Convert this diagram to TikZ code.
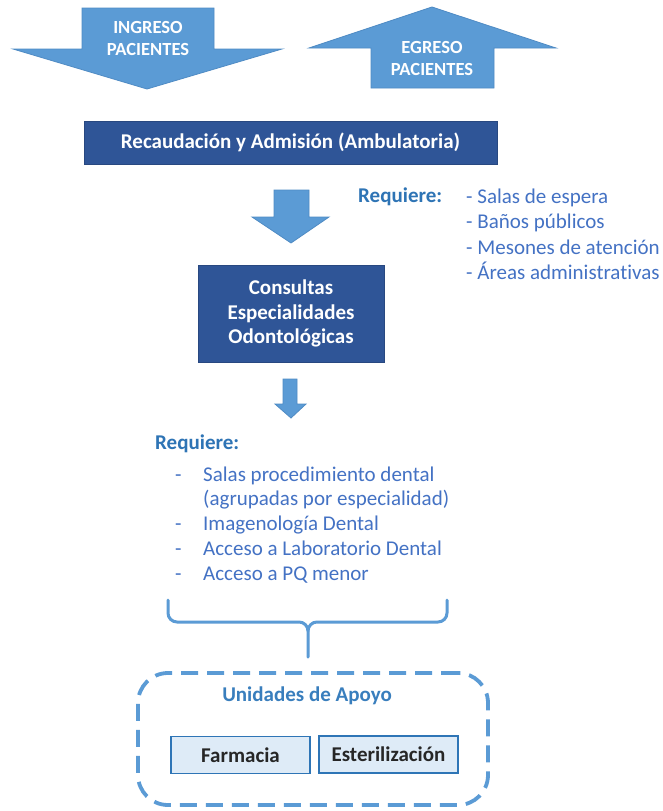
\documentclass[tikz,border=0pt]{standalone}
\usepackage{fontspec}
\setmainfont{Carlito}[Ligatures={NoCommon,NoDiscretionary}]
\definecolor{arrowblue}{HTML}{5B9BD5}
\definecolor{arrowline}{HTML}{4F8BC4}
\definecolor{darkblue}{HTML}{2F5597}
\definecolor{reqblue}{HTML}{2E74B5}
\definecolor{itemblue}{HTML}{4472C4}
\definecolor{lightfill}{HTML}{DEEBF7}
\definecolor{subline}{HTML}{2E75B6}
\begin{document}
\begin{tikzpicture}[x=1pt,y=-1pt,
  every node/.style={inner sep=0pt, font=\fontsize{21}{25}\selectfont},
  blockarrow/.style={fill=arrowblue, draw=arrowline, line width=0.8pt, line join=miter},
  arrowtext/.style={text=white, font=\fontsize{18.5}{22}\selectfont\bfseries, align=center},
  darkbox/.style={fill=darkblue, draw=darkblue!85!black, line width=0.8pt, text=white, font=\fontsize{21}{24.5}\selectfont\bfseries, align=center},
  reqlabel/.style={text=reqblue, font=\fontsize{21}{25}\selectfont\bfseries, anchor=west, text height=15pt, text depth=5pt},
  itemtext/.style={text=itemblue, anchor=west, text height=15pt, text depth=5pt},
  subbox/.style={fill=lightfill, draw=subline, line width=1.2pt, minimum width=139pt, minimum height=37pt, font=\fontsize{21}{25}\selectfont\bfseries, text=black!85},
  dashbox/.style={draw=arrowblue, line width=3.8pt, dash pattern=on 17pt off 9pt, rounded corners=30pt, minimum width=350pt, minimum height=132pt},
  bracestyle/.style={draw=arrowblue, line width=3pt, line cap=round, line join=round}
]
\useasboundingbox (0,0) rectangle (663,811);
\fill[white] (0,0) rectangle (663,811);

% INGRESO arrow (down)
\draw[blockarrow] (82,8) -- (214,8) -- (214,49) -- (282,49) -- (147,89) -- (13,49) -- (82,49) -- cycle;
\node[arrowtext] (ingreso) at (148,38) {INGRESO\\PACIENTES};

% EGRESO arrow (up)
\draw[blockarrow] (432,7) -- (556,48) -- (494,48) -- (494,88) -- (371,88) -- (371,48) -- (309,48) -- cycle;
\node[arrowtext] (egreso) at (432,58) {EGRESO\\PACIENTES};

% Recaudacion box
\node[darkbox, minimum width=413pt, minimum height=43pt] (recaud) at (290.5,142.5) {Recaudación y Admisión (Ambulatoria)};

% arrow 2
\draw[blockarrow] (274,190) -- (309,190) -- (309,217) -- (329,217) -- (291,243) -- (252,217) -- (274,217) -- cycle;

% Requiere 1
\node[reqlabel] (req1) at (358,197) {Requiere:};
\node[itemtext] (r1a) at (466,198) {- Salas de espera};
\node[itemtext] (r1b) at (466,223) {- Baños públicos};
\node[itemtext] (r1c) at (466,249) {- Mesones de atención};
\node[itemtext] (r1d) at (466,274) {- Áreas administrativas};

% Consultas box
\node[darkbox, minimum width=186pt, minimum height=97pt] (consultas) at (291,313.5) {Consultas\\Especialidades\\Odontológicas};

% arrow 3
\draw[blockarrow] (283,379) -- (297,379) -- (297,404) -- (306,404) -- (291,418) -- (275,404) -- (283,404) -- cycle;

% Requiere 2
\node[reqlabel] (req2) at (155,444) {Requiere:};
\node[itemtext] (d1) at (175,476) {-};
\node[itemtext] (i1) at (203,476) {Salas procedimiento dental};
\node[itemtext] (i1b) at (203,500) {(agrupadas por especialidad)};
\node[itemtext] (d2) at (175,525) {-};
\node[itemtext] (i2) at (203,525) {Imagenología Dental};
\node[itemtext] (d3) at (175,550) {-};
\node[itemtext] (i3) at (203,550) {Acceso a Laboratorio Dental};
\node[itemtext] (d4) at (175,575) {-};
\node[itemtext] (i4) at (203,575) {Acceso a PQ menor};

% Unidades de apoyo
\node[dashbox] (apoyo) at (313,739) {};
\node[text=reqblue!75!arrowblue, font=\fontsize{21}{25}\selectfont\bfseries] (apoyotitle) at (307,696) {Unidades de Apoyo};
\node[subbox] (farmacia) at (240.5,755) {Farmacia};
\node[subbox] (esteril) at (388.5,754.5) {Esterilización};

% brace
\coordinate (bl) at (168,600);
\coordinate (br) at (447,600);
\coordinate (bm) at (308,631);
\coordinate (bend) at (308,657);
\draw[bracestyle] (bl) -- (168,613) to[out=-90,in=180] (177,622) -- (299,622) to[out=0,in=90] (bm) -- (bend);
\draw[bracestyle] (br) -- (447,613) to[out=-90,in=0] (438,622) -- (317,622) to[out=180,in=90] (bm);
\end{tikzpicture}
\end{document}
